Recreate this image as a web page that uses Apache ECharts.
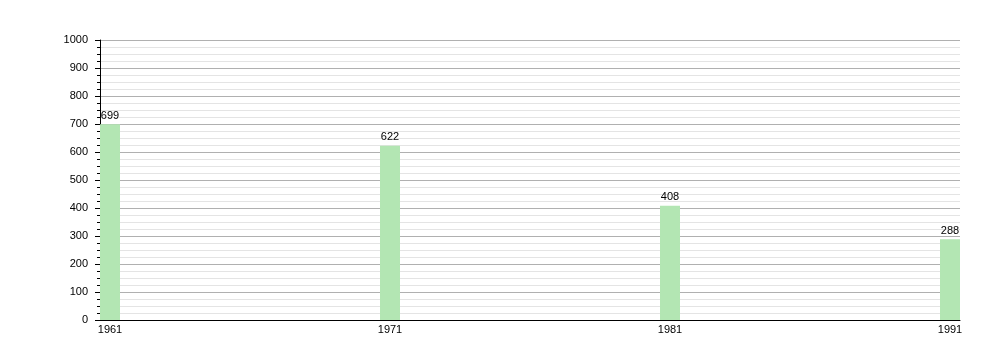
<!DOCTYPE html>
<html>
<head>
<meta charset="utf-8">
<script src="https://cdn.jsdelivr.net/npm/echarts@6/dist/echarts.min.js"></script>
<style>html,body{margin:0;padding:0;background:#fff}#c{width:1000px;height:360px}</style>
</head>
<body>
<div id="c"></div>
<script>
const years = [1961, 1971, 1981, 1991];
const values = [699, 622, 408, 288];
const yTicks = [0, 100, 200, 300, 400, 500, 600, 700, 800, 900, 1000];

const chart = echarts.init(document.getElementById('c'), null, {renderer: 'canvas'});
const half = 10 / 28;
chart.setOption({
  animation: false,
  textStyle: {fontFamily: 'Liberation Sans, Arial, sans-serif'},
  grid: {left: 100, right: 40, top: 40, bottom: 40, containLabel: false},
  xAxis: {
    type: 'value',
    min: years[0] - half,
    max: years[years.length - 1] + half,
    axisLine: {show: true, onZero: false, lineStyle: {color: '#000', width: 1}},
    axisTick: {show: false},
    splitLine: {show: false},
    axisLabel: {
      customValues: years,
      color: '#000', fontSize: 11, margin: 4,
      formatter: v => String(v)
    }
  },
  yAxis: {
    type: 'value',
    min: 0, max: 1000, interval: 100,
    axisLine: {show: true, lineStyle: {color: '#000', width: 1}},
    axisTick: {show: true, length: 5, lineStyle: {color: '#000'}},
    minorTick: {show: true, splitNumber: 4, length: 3, lineStyle: {color: '#000'}},
    splitLine: {show: true, lineStyle: {color: '#b0b0b0', width: 1}},
    minorSplitLine: {show: true, lineStyle: {color: '#e4e4e4', width: 1}},
    axisLabel: {color: '#000', fontSize: 11, margin: 12, customValues: yTicks,
      formatter: v => String(v)}
  },
  series: [{
    type: 'bar',
    data: years.map((y, i) => [y, values[i]]),
    barWidth: 20,
    itemStyle: {color: '#b3e6b3'},
    label: {show: true, position: 'top', color: '#000', fontSize: 11, distance: 3}
  }]
});
</script>
</body>
</html>
